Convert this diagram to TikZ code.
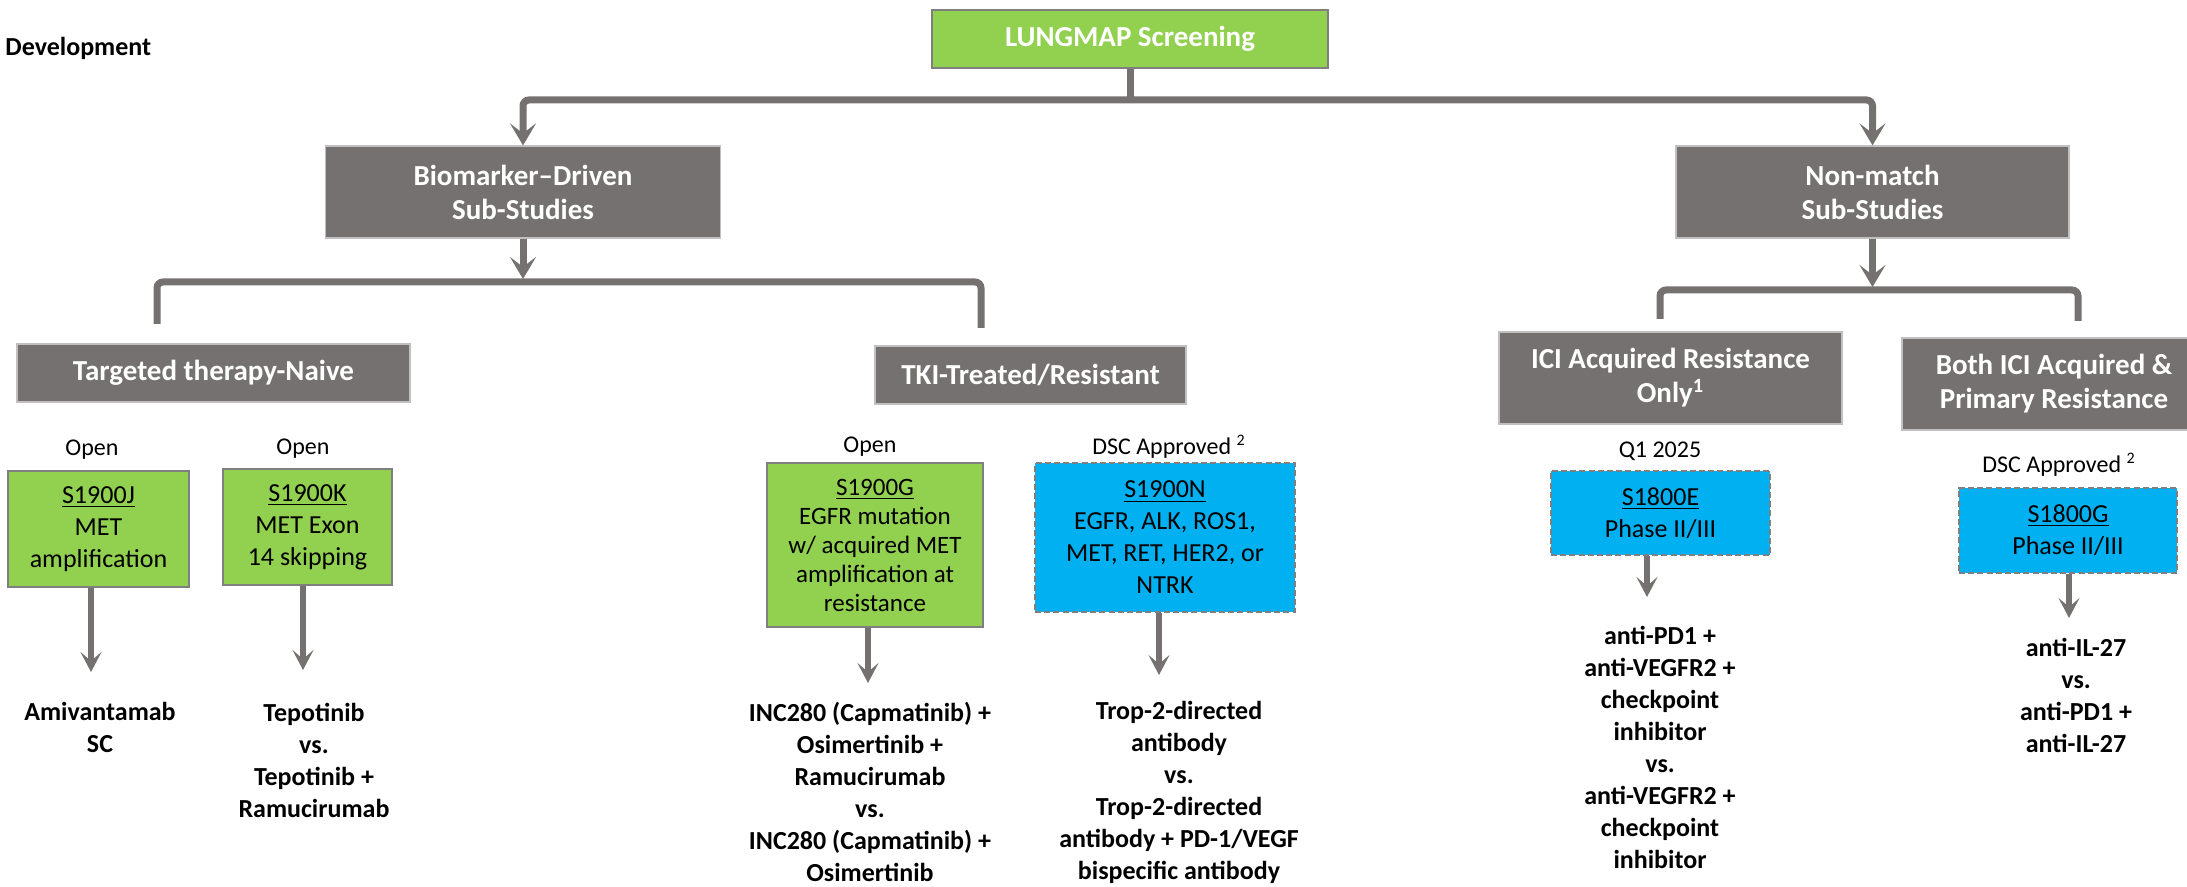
\documentclass[tikz,border=0pt]{standalone}
\usepackage{fontspec}
\setmainfont{Carlito}
\usetikzlibrary{arrows.meta}
\definecolor{hdr}{HTML}{767171}
\definecolor{lgreen}{HTML}{92D050}
\definecolor{lblue}{HTML}{00B0F0}
\definecolor{bord}{HTML}{7F7F7F}
\begin{document}
\begin{tikzpicture}[x=0.5pt,y=-0.5pt,
 hdrbox/.style={fill=hdr, draw=hdr!45!white, line width=0.6pt, text=white, font=\fontsize{14.5}{17}\selectfont\bfseries, align=center, inner sep=0pt},
 greenbox/.style={fill=lgreen, draw=bord, line width=1.3pt, align=center, inner sep=0pt, font=\fontsize{13}{16}\selectfont},
 bluebox/.style={fill=lblue, draw=bord, line width=1.4pt, dash pattern=on 3pt off 1.6pt, align=center, inner sep=0pt, font=\fontsize{13}{16}\selectfont},
 lbl/.style={font=\fontsize{12}{14}\selectfont, inner sep=0pt},
 res/.style={font=\fontsize{13}{16}\selectfont\bfseries, align=center, inner sep=0pt},
 bigline/.style={draw=hdr, line width=3.5pt, rounded corners=3pt},
 bigarr/.style={bigline, -{Stealth[length=11pt,width=13pt,inset=5pt]}},
 smallarr/.style={draw=hdr, line width=2.75pt, -{Stealth[length=10pt,width=10.5pt,inset=4.5pt]}},
]
\useasboundingbox (0,0) rectangle (2187,887);

\node[anchor=west, font=\fontsize{13}{16}\selectfont\bfseries, inner sep=0pt] (dev) at (5,48) {Development};

% header boxes
\node[hdrbox, fill=lgreen, draw=bord, line width=1.2pt, minimum width=198pt, minimum height=29pt] (lung) at (1130,39) {LUNGMAP Screening};
\node[hdrbox, minimum width=197.5pt, minimum height=46pt] (bio) at (523,192) {Biomarker--Driven\\Sub-Studies};
\node[hdrbox, minimum width=196.5pt, minimum height=46pt] (non) at (1872.5,192) {Non-match\\Sub-Studies};
\node[hdrbox, minimum width=196.5pt, minimum height=29pt] (naive) at (213.5,373) {Targeted therapy-Naive};
\node[hdrbox, minimum width=155.5pt, minimum height=29pt] (tki) at (1030.5,375) {TKI-Treated/Resistant};
\node[hdrbox, minimum width=171.5pt, minimum height=46pt] (ici) at (1670.5,378) {ICI Acquired Resistance\\Only\textsuperscript{1}};
\node[hdrbox, minimum width=152pt, minimum height=46pt] (both) at (2054,384) {Both ICI Acquired \&\\Primary Resistance};

% status labels
\node[lbl] (l1) at (92,450) {Open};
\node[lbl] (l2) at (303,449) {Open};
\node[lbl] (l3) at (870,447) {Open};
\node[lbl] (l4) at (1169,447) {DSC Approved \textsuperscript{2}};
\node[lbl] (l5) at (1660,451) {Q1 2025};
\node[lbl] (l6) at (2059,465) {DSC Approved \textsuperscript{2}};

% study boxes
\node[greenbox, minimum width=90.5pt, minimum height=58pt] (j) at (98.5,529) {\underline{S1900J}\\MET\\amplification};
\node[greenbox, minimum width=84.5pt, minimum height=58pt] (k) at (307.5,527) {\underline{S1900K}\\MET Exon\\14 skipping};
\node[greenbox, minimum width=108pt, minimum height=82pt, font=\fontsize{12.5}{14.5}\selectfont] (g) at (875,545) {\underline{S1900G}\\EGFR mutation\\w/ acquired MET\\amplification at\\resistance};
\node[bluebox, minimum width=130pt, minimum height=74.5pt] (n) at (1165,537.5) {\underline{S1900N}\\EGFR, ALK, ROS1,\\MET, RET, HER2, or\\NTRK};
\node[bluebox, minimum width=109.5pt, minimum height=42pt] (e) at (1660.5,513) {\underline{S1800E}\\Phase II/III};
\node[bluebox, minimum width=109pt, minimum height=42.5pt] (sg) at (2068,530.5) {\underline{S1800G}\\Phase II/III};

% results
\node[res] (rj) at (100,727.5) {Amivantamab\\SC};
\node[res] (rk) at (314,760) {Tepotinib\\vs.\\Tepotinib +\\Ramucirumab};
\node[res] (rg) at (870,792) {INC280 (Capmatinib) +\\Osimertinib +\\Ramucirumab\\vs.\\INC280 (Capmatinib) +\\Osimertinib};
\node[res] (rn) at (1179,792) {Trop-2-directed\\antibody\\vs.\\Trop-2-directed\\antibody + PD-1/VEGF\\bispecific antibody};
\node[res] (re) at (1660,747) {anti-PD1 +\\anti-VEGFR2 +\\checkpoint\\inhibitor\\vs.\\anti-VEGFR2 +\\checkpoint\\inhibitor};
\node[res] (rsg) at (2076,695) {anti-IL-27\\vs.\\anti-PD1 +\\anti-IL-27};

% top bracket
\coordinate (tj) at (1130,100);
\draw[bigline] (lung.south) -- (tj);
\draw[bigarr] (tj) -| (bio.north);
\draw[bigarr] (tj) -| (non.north);

% biomarker bracket
\coordinate (bt) at (523,279);
\coordinate (bm) at (523,282);
\coordinate (bl) at (157,324);
\coordinate (br) at (981,328);
\draw[bigarr] (bio.south) -- (bt);
\draw[bigline] (bl) |- (bm) -| (br);

% non-match bracket
\coordinate (nt) at (1872.5,287);
\coordinate (nm) at (1872.5,290);
\coordinate (nl) at (1660,319);
\coordinate (nr) at (2078,321);
\draw[bigarr] (non.south) -- (nt);
\draw[bigline] (nl) |- (nm) -| (nr);

% small arrows
\coordinate (jt) at (91,672);
\coordinate (kt) at (303,670);
\coordinate (gt) at (868,683);
\coordinate (nnt) at (1159,675);
\coordinate (et) at (1647,597);
\coordinate (sgt) at (2069,618);
\draw[smallarr] (j.south -| jt) -- (jt);
\draw[smallarr] (k.south -| kt) -- (kt);
\draw[smallarr] (g.south -| gt) -- (gt);
\draw[smallarr] (n.south -| nnt) -- (nnt);
\draw[smallarr] (e.south -| et) -- (et);
\draw[smallarr] (sg.south -| sgt) -- (sgt);
\end{tikzpicture}
\end{document}
